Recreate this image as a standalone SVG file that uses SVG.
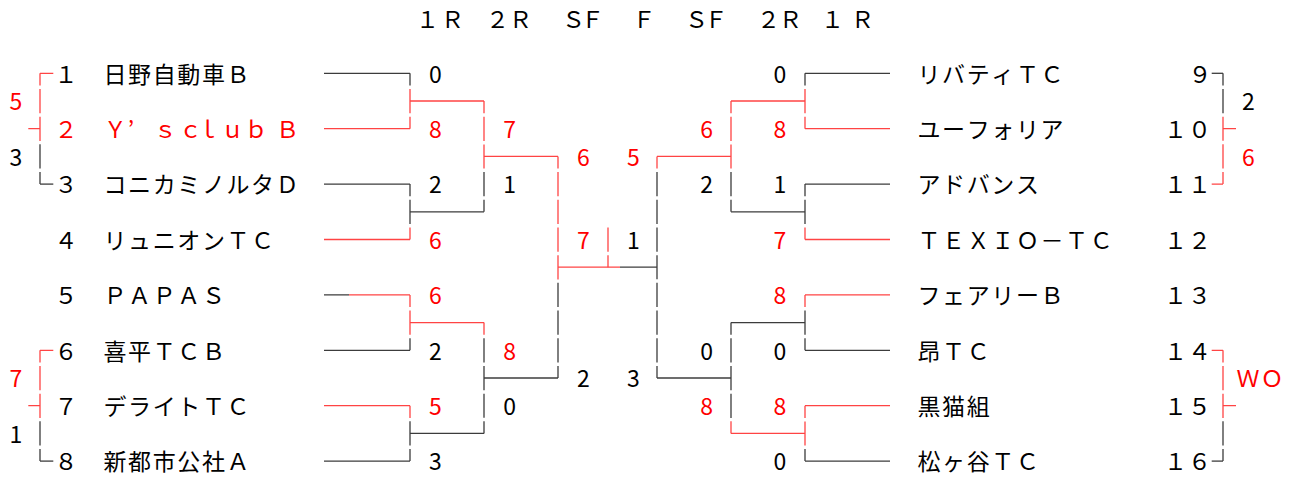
<svg xmlns="http://www.w3.org/2000/svg" width="1296" height="477" viewBox="0 0 1296 477">
<style>
text{font-family:"Noto Sans CJK JP","Noto Sans",sans-serif;font-size:23px;text-anchor:middle;fill:#000}
text.r{fill:#ff0000}
path{fill:none;stroke-width:1.3}
.k{stroke:#3c3c3c}
.e{stroke:#ff4444}
.va{stroke-dasharray:24.2 3.5;stroke-dashoffset:12}
.vb{stroke-dasharray:24.2 3.5;stroke-dashoffset:25.95}
</style>
<rect width="1296" height="477" fill="#fff"/>
<g id="header">
<text x="427.5 452.5" y="27.8">１Ｒ</text>
<text x="497.5 520.5" y="27.8">２Ｒ</text>
<text x="573.5 592.5" y="27.8">ＳＦ</text>
<text x="644" y="27.8">Ｆ</text>
<text x="696.5 716" y="27.8">ＳＦ</text>
<text x="768.5 790.5" y="27.8">２Ｒ</text>
<text x="832.5 862.5" y="27.8">１Ｒ</text>
</g>
<g id="connectors">
<path class="e" d="M40 73.3H53.3M28.3 128.7H40"/>
<path class="e va" d="M40 73.3V142.6"/>
<path class="k vb" d="M40 142.6V184.1"/>
<path class="k" d="M40 184.1H53.3"/>
<path class="e" d="M40 350.3H53.3M28.3 405.7H40"/>
<path class="e va" d="M40 350.3V419.6"/>
<path class="k vb" d="M40 419.6V461.1"/>
<path class="k" d="M40 461.1H53.3"/>
<path class="k" d="M1211.7 73.3H1223"/>
<path class="k va" d="M1223 73.3V114.9"/>
<path class="e vb" d="M1223 114.9V184.1"/>
<path class="e" d="M1211.7 184.1H1223M1223 128.7H1236"/>
<path class="e" d="M1211.7 350.3H1223M1223 405.7H1236"/>
<path class="e va" d="M1223 350.3V419.6"/>
<path class="k vb" d="M1223 419.6V461.1"/>
<path class="k" d="M1211.7 461.1H1223"/>
<path class="k" d="M324 73.3H410M324 184.1H410M410 211.8H484M324 294.9H349M324 350.3H410M324 461.1H410M410 433.4H484"/>
<path class="e" d="M324 128.7H410M410 101H484M324 239.5H410M349 294.9H410M410 322.6H484M324 405.7H410"/>
<path class="k va" d="M410 73.3V87.2M410 184.1V225.7"/>
<path class="e vb" d="M410 87.2V128.7M410 225.7V239.5"/>
<path class="e va" d="M410 294.9V336.5M410 405.7V419.6"/>
<path class="k vb" d="M410 336.5V350.3M410 419.6V461.1"/>
<path class="e va" d="M484 101V170.3M484 322.6V336.5"/>
<path class="k vb" d="M484 170.3V211.8M484 336.5V433.4"/>
<path class="e" d="M484 156.4H558"/>
<path class="k" d="M484 378H558"/>
<path class="e va" d="M558 156.4V281.1"/>
<path class="k vb" d="M558 281.1V378"/>
<path class="e" d="M558 267.2H620"/>
<path class="k" d="M620 267.2H657"/>
<path class="e vb" d="M608 225.7V267.2"/>
<path class="e va" d="M657 156.4V170.3"/>
<path class="k vb" d="M657 170.3V378"/>
<path class="e" d="M657 156.4H731"/>
<path class="k" d="M657 378H731"/>
<path class="e va" d="M731 101V170.3"/>
<path class="k vb" d="M731 170.3V211.8"/>
<path class="k va" d="M731 322.6V419.6"/>
<path class="e vb" d="M731 419.6V433.4"/>
<path class="e" d="M731 101H805M731 433.4H805"/>
<path class="k" d="M731 211.8H805M731 322.6H805"/>
<path class="k" d="M805 73.3H890M805 184.1H890M805 350.3H890M805 461.1H890"/>
<path class="e" d="M805 128.7H890M805 239.5H890M805 294.9H890M805 405.7H890"/>
<path class="k va" d="M805 73.3V87.2M805 184.1V225.7"/>
<path class="e vb" d="M805 87.2V128.7M805 225.7V239.5"/>
<path class="e va" d="M805 294.9V308.8M805 405.7V447.3"/>
<path class="k vb" d="M805 308.8V350.3M805 447.3V461.1"/>
</g>
<g id="team1"><text x="66" y="82.6">１</text><text x="115 139.6 164.2 188.8 213.4 238" y="82.6">日野自動車Ｂ</text></g>
<g id="team2"><text class="r" x="66" y="138">２</text><text class="r" x="115.3 131 165.3 190.5 208 232.5 256 287.5" y="138">Ｙ’ｓｃｌｕｂＢ</text></g>
<g id="team3"><text x="66" y="193.4">３</text><text x="115 139.6 164.2 188.8 213.4 238 262.6 287.2" y="193.4">コニカミノルタＤ</text></g>
<g id="team4"><text x="66" y="248.8">４</text><text x="115 139.6 164.2 188.8 213.4 238 262.6" y="248.8">リュニオンＴＣ</text></g>
<g id="team5"><text x="66" y="304.2">５</text><text x="115 139.6 164.2 188.8 213.4" y="304.2">ＰＡＰＡＳ</text></g>
<g id="team6"><text x="66" y="359.6">６</text><text x="115 139.6 164.2 188.8 213.4" y="359.6">喜平ＴＣＢ</text></g>
<g id="team7"><text x="66" y="415">７</text><text x="115 139.6 164.2 188.8 213.4 238" y="415">デライトＴＣ</text></g>
<g id="team8"><text x="66" y="470.4">８</text><text x="115 139.6 164.2 188.8 213.4 238" y="470.4">新都市公社Ａ</text></g>
<g id="team9"><text x="929 953.6 978.2 1002.8 1027.4 1052" y="82.6">リバティＴＣ</text><text x="1200" y="82.6">９</text></g>
<g id="team10"><text x="929 953.6 978.2 1002.8 1027.4 1052" y="138">ユーフォリア</text><text x="1175.5 1199.5" y="138">１０</text></g>
<g id="team11"><text x="929 953.6 978.2 1002.8 1027.4" y="193.4">アドバンス</text><text x="1175.5 1199.5" y="193.4">１１</text></g>
<g id="team12"><text x="929 953.6 978.2 1002.8 1027.4 1052 1076.6 1101.2" y="248.8">ＴＥＸＩＯ－ＴＣ</text><text x="1175.5 1199.5" y="248.8">１２</text></g>
<g id="team13"><text x="929 953.6 978.2 1002.8 1027.4 1052" y="304.2">フェアリーＢ</text><text x="1175.5 1199.5" y="304.2">１３</text></g>
<g id="team14"><text x="929 953.6 978.2" y="359.6">昂ＴＣ</text><text x="1175.5 1199.5" y="359.6">１４</text></g>
<g id="team15"><text x="929 953.6 978.2" y="415">黒猫組</text><text x="1175.5 1199.5" y="415">１５</text></g>
<g id="team16"><text x="929 953.6 978.2 1002.8 1027.4" y="470.4">松ヶ谷ＴＣ</text><text x="1175.5 1199.5" y="470.4">１６</text></g>
<g id="scores">
<text class="r" x="15.8" y="110.3">5</text>
<text x="15.8" y="165.7">3</text>
<text class="r" x="15.8" y="387.3">7</text>
<text x="15.8" y="442.7">1</text>
<text x="1248.5" y="110.3">2</text>
<text class="r" x="1248.5" y="165.7">6</text>
<text class="r" x="1248 1272" y="387.3">ＷＯ</text>
<text x="435.5" y="82.6">0</text>
<text class="r" x="435.5" y="138">8</text>
<text x="435.5" y="193.4">2</text>
<text class="r" x="435.5" y="248.8">6</text>
<text class="r" x="435.5" y="304.2">6</text>
<text x="435.5" y="359.6">2</text>
<text class="r" x="435.5" y="415">5</text>
<text x="435.5" y="470.4">3</text>
<text class="r" x="509.7" y="138">7</text>
<text x="509.7" y="193.4">1</text>
<text class="r" x="509.7" y="359.6">8</text>
<text x="509.7" y="415">0</text>
<text class="r" x="583.3" y="165.7">6</text>
<text class="r" x="583.3" y="248.8">7</text>
<text x="583.3" y="387.3">2</text>
<text class="r" x="633.3" y="165.7">5</text>
<text x="633.3" y="248.8">1</text>
<text x="633.3" y="387.3">3</text>
<text class="r" x="706.7" y="138">6</text>
<text x="706.7" y="193.4">2</text>
<text x="706.7" y="359.6">0</text>
<text class="r" x="706.7" y="415">8</text>
<text x="780" y="82.6">0</text>
<text class="r" x="780" y="138">8</text>
<text x="780" y="193.4">1</text>
<text class="r" x="780" y="248.8">7</text>
<text class="r" x="780" y="304.2">8</text>
<text x="780" y="359.6">0</text>
<text class="r" x="780" y="415">8</text>
<text x="780" y="470.4">0</text>
</g>
</svg>
